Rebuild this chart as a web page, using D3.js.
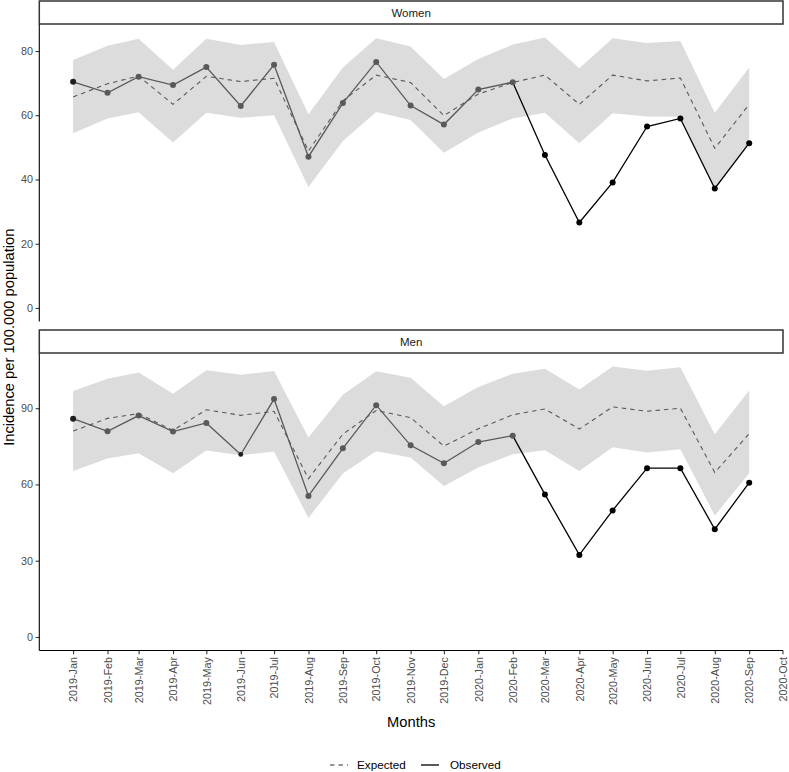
<!DOCTYPE html>
<html>
<head>
<meta charset="utf-8">
<script src="https://cdn.jsdelivr.net/npm/d3@7"></script>
<style>
  html, body { margin: 0; padding: 0; background: #fff; }
  svg { display: block; font-family: "Liberation Sans", Arial, sans-serif; }
</style>
</head>
<body>
<svg id="chart" width="789" height="772"></svg>
<script>
// ---------------- DATA ----------------
const months = ["2019-01","2019-02","2019-03","2019-04","2019-05","2019-06","2019-07","2019-08","2019-09","2019-10","2019-11","2019-12",
                "2020-01","2020-02","2020-03","2020-04","2020-05","2020-06","2020-07","2020-08","2020-09"];
const tickLabels = ["2019-Jan","2019-Feb","2019-Mar","2019-Apr","2019-May","2019-Jun","2019-Jul","2019-Aug","2019-Sep","2019-Oct","2019-Nov","2019-Dec",
                    "2020-Jan","2020-Feb","2020-Mar","2020-Apr","2020-May","2020-Jun","2020-Jul","2020-Aug","2020-Sep","2020-Oct"];

const womenObserved = [70.4,67.0,72.0,69.4,75.0,62.9,75.7,47.1,63.8,76.6,63.0,57.1,68.0,70.3,47.6,26.6,39.1,56.5,59.0,37.2,51.3];
const womenExpected = [65.7,69.8,72.2,63.4,72.1,70.5,71.5,48.9,64.5,72.5,70.2,59.9,66.6,70.2,72.5,63.4,72.5,70.7,71.6,49.7,63.4];
const womenLower    = [54.4,59.0,60.9,51.5,60.8,59.2,60.0,37.7,52.0,61.0,58.5,48.3,54.6,59.0,60.8,51.3,60.6,59.6,59.5,37.1,51.5];
const womenUpper    = [77.2,81.6,83.8,74.2,83.8,81.9,82.8,60.3,74.9,84.0,81.4,71.3,77.5,82.0,84.2,74.6,84.0,82.5,83.1,60.8,74.9];

const menObserved = [85.9,80.9,87.1,80.8,84.2,71.8,93.6,55.5,74.2,91.2,75.4,68.3,76.7,79.2,56.1,32.3,49.8,66.4,66.4,42.4,60.7];
const menExpected = [81.0,86.0,87.9,81.3,89.4,87.2,88.8,62.3,79.8,89.1,86.3,75.1,81.9,87.4,89.7,81.8,90.5,88.8,90.0,64.7,80.0];
const menLower    = [65.3,70.2,72.3,64.4,73.4,71.5,73.0,46.8,64.3,73.1,70.6,59.4,66.7,71.9,73.5,65.3,74.6,72.6,73.9,47.8,64.4];
const menUpper    = [96.8,101.6,104.0,95.7,104.9,103.2,104.6,78.5,95.3,104.5,102.0,90.8,98.3,103.6,105.5,97.4,106.4,104.7,106.1,79.8,97.0];

const womenTicks = [0,20,40,60,80];
const menTicks = [0,30,60,90];
const pandemicStart = "2020-02"; // last pre-pandemic month (grey), black afterwards

// ---------------- LAYOUT ----------------
const svg = d3.select("#chart");
const left = 39.3, right = 783;
const parseMonth = d3.utcParse("%Y-%m");
const parseTick = d3.utcParse("%Y-%b");
const dates = months.map(parseMonth);
const d0 = dates[0], d1 = dates[dates.length - 1];
const span = d1 - d0;
const x = d3.scaleUtc()
  .domain([new Date(+d0 - 0.05 * span), new Date(+d1 + 0.05 * span)])
  .range([left, right]);

const GREY = "#595959", BLACK = "#000000", RIBBON = "#dcdcdc";
const cut = months.indexOf(pandemicStart);
const TICKFONT = "10.8px";

const panels = [
  { name: "Women", stripTop: 1, stripBot: 24, top: 24, bot: 321.5, obs: womenObserved, exp: womenExpected, lo: womenLower, hi: womenUpper, ticks: womenTicks, blackIdx: [0] },
  { name: "Men",   stripTop: 330, stripBot: 353, top: 353, bot: 650.5, obs: menObserved, exp: menExpected, lo: menLower, hi: menUpper, ticks: menTicks, blackIdx: [0, 5] }
];

panels.forEach((p, pi) => {
  const maxV = d3.max(p.hi), minV = 0;
  const ext = (maxV - minV) * 0.05;
  const y = d3.scaleLinear().domain([minV - ext, maxV + ext]).range([p.bot, p.top]);
  const g = svg.append("g");

  const rows = dates.map((d, i) => ({ d, i, obs: p.obs[i], exp: p.exp[i], lo: p.lo[i], hi: p.hi[i] }));

  // ribbon
  g.append("path")
    .datum(rows)
    .attr("fill", RIBBON)
    .attr("d", d3.area().x(r => x(r.d)).y0(r => y(r.lo)).y1(r => y(r.hi)));

  // expected (dashed)
  g.append("path")
    .datum(rows)
    .attr("fill", "none")
    .attr("stroke", GREY)
    .attr("stroke-width", 1.1)
    .attr("stroke-dasharray", "4.5,4")
    .attr("d", d3.line().x(r => x(r.d)).y(r => y(r.exp)));

  const line = d3.line().x(r => x(r.d)).y(r => y(r.obs));
  // observed, pandemic part (black)
  g.append("path")
    .datum(rows.slice(cut))
    .attr("fill", "none")
    .attr("stroke", BLACK)
    .attr("stroke-width", 1.3)
    .attr("d", line);
  // observed, pre-pandemic part (grey)
  g.append("path")
    .datum(rows.slice(0, cut + 1))
    .attr("fill", "none")
    .attr("stroke", GREY)
    .attr("stroke-width", 1.3)
    .attr("d", line);

  // points
  g.selectAll("circle.pt")
    .data(rows)
    .join("circle")
    .attr("class", "pt")
    .attr("cx", r => x(r.d))
    .attr("cy", r => y(r.obs))
    .attr("r", r => (p.blackIdx.includes(r.i) && r.i > 0) ? 2.4 : 3)
    .attr("fill", r => (r.i > cut || p.blackIdx.includes(r.i)) ? (r.i > cut ? BLACK : "#1e1e1e") : GREY);

  // y axis
  const yAxis = d3.axisLeft(y).tickValues(p.ticks).tickSize(3.7).tickPadding(2.5);
  const ya = g.append("g").attr("transform", `translate(${left},0)`).call(yAxis);
  ya.select(".domain").remove();
  ya.selectAll(".tick line").attr("stroke", "#333").attr("stroke-width", 1.07);
  ya.selectAll(".tick text").attr("fill", "#4d4d4d").style("font-size", TICKFONT)
    .style("font-family", "'Liberation Sans', Arial, sans-serif");
  g.append("line").attr("x1", left).attr("x2", left).attr("y1", p.top).attr("y2", p.bot)
    .attr("stroke", "#000").attr("stroke-width", 1.1);

  // strip
  g.append("rect")
    .attr("x", left).attr("y", p.stripTop)
    .attr("width", right - left).attr("height", p.stripBot - p.stripTop)
    .attr("fill", "#fff").attr("stroke", "#333").attr("stroke-width", 1.5);
  g.append("text")
    .attr("x", (left + right) / 2).attr("y", (p.stripTop + p.stripBot) / 2)
    .attr("dy", "0.35em").attr("text-anchor", "middle")
    .attr("fill", "#1a1a1a").style("font-size", "11.5px")
    .text(p.name);

  // x axis only for last panel
  if (pi === panels.length - 1) {
    const tickDates = tickLabels.map(parseTick);
    const xAxis = d3.axisBottom(x).tickValues(tickDates).tickFormat(d3.utcFormat("%Y-%b")).tickSize(3.7).tickPadding(2.5);
    const xa = g.append("g").attr("transform", `translate(0,${p.bot})`).call(xAxis);
    xa.select(".domain").remove();
    xa.selectAll(".tick line").attr("stroke", "#333").attr("stroke-width", 1.07);
    xa.selectAll(".tick text")
      .attr("fill", "#4d4d4d").style("font-size", TICKFONT)
      .style("font-family", "'Liberation Sans', Arial, sans-serif")
      .attr("transform", "rotate(-90)")
      .attr("text-anchor", "end")
      .attr("x", -6.5).attr("y", 0).attr("dy", "0.35em");
    g.append("line").attr("x1", left).attr("x2", right).attr("y1", p.bot).attr("y2", p.bot)
      .attr("stroke", "#000").attr("stroke-width", 1.1);
  }
});

// axis titles
svg.append("text")
  .attr("x", (left + right) / 2).attr("y", 727)
  .attr("text-anchor", "middle").attr("fill", "#000")
  .style("font-size", "14.7px").text("Months");
svg.append("text")
  .attr("transform", `translate(14,${(24 + 650.5) / 2}) rotate(-90)`)
  .attr("text-anchor", "middle").attr("fill", "#000")
  .style("font-size", "14.7px").text("Incidence per 100.000 population");

// legend
const leg = svg.append("g").attr("transform", "translate(0,765)");
leg.append("line").attr("x1", 330).attr("x2", 348).attr("y1", 0).attr("y2", 0)
  .attr("stroke", "#333").attr("stroke-width", 1.1).attr("stroke-dasharray", "4.5,4");
leg.append("text").attr("x", 357).attr("y", 0).attr("dy", "0.35em")
  .attr("fill", "#000").style("font-size", "11.7px").text("Expected");
leg.append("line").attr("x1", 421).attr("x2", 439).attr("y1", 0).attr("y2", 0)
  .attr("stroke", "#000").attr("stroke-width", 1.3);
leg.append("text").attr("x", 450).attr("y", 0).attr("dy", "0.35em")
  .attr("fill", "#000").style("font-size", "11.7px").text("Observed");
</script>
</body>
</html>
